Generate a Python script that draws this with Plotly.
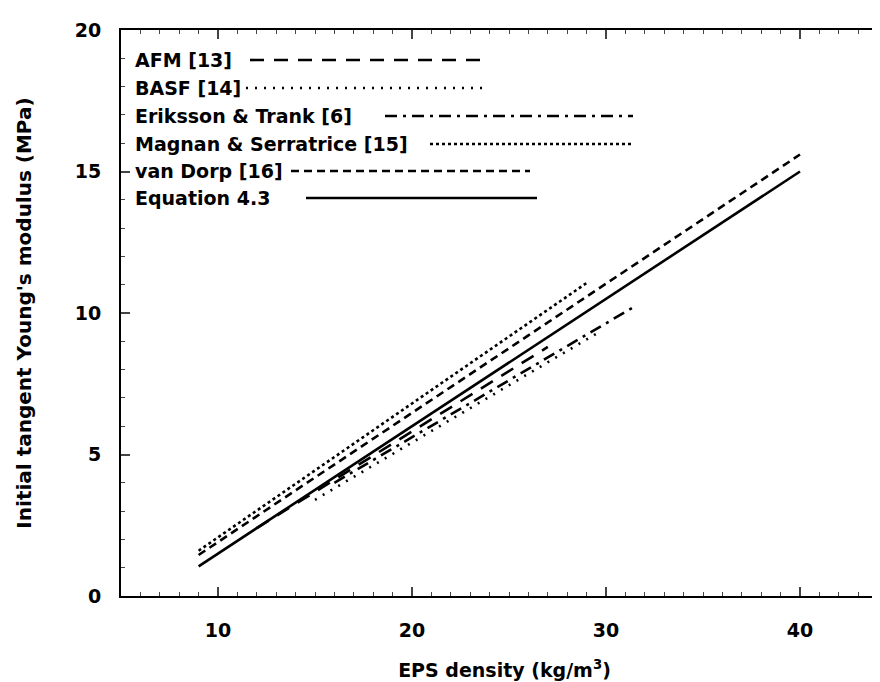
import plotly.graph_objects as go

# ---- data ----
series_names = ["AFM [13]", "BASF [14]", "Eriksson & Trank [6]",
                "Magnan & Serratrice [15]", "van Dorp [16]", "Equation 4.3"]
afm_density = [12.0, 27.0]
afm_modulus = [2.4, 8.8]
basf_density = [15.0, 29.7]
basf_modulus = [3.4, 9.35]
eriksson_density = [16.0, 31.4]
eriksson_modulus = [4.0, 10.2]
magnan_density = [9.0, 29.0]
magnan_modulus = [1.6, 11.06]
vandorp_density = [9.0, 40.0]
vandorp_modulus = [1.45, 15.6]
equation_density = [9.0, 40.0]
equation_modulus = [1.05, 15.0]
x_ticks = [10, 20, 30, 40]
y_ticks = [0, 5, 10, 15, 20]

# ---- styles ----
W, H = 880, 682
ML, MR, MT, MB = 113, 0, 22, 94
FONT = dict(family="DejaVu Sans", size=19, color="black", weight="bold")
YT_FONT = dict(family="DejaVu Sans", size=20, color="black", weight="bold")
dashes = ["14px,10px", "2px,7px", "12px,6px,3px,6px", "3px,3px", "8px,5px", "solid"]
LW = 2.6

xs = [afm_density, basf_density, eriksson_density, magnan_density, vandorp_density, equation_density]
ys = [afm_modulus, basf_modulus, eriksson_modulus, magnan_modulus, vandorp_modulus, equation_modulus]

fig = go.Figure()
for name, x, y, d in zip(series_names, xs, ys, dashes):
    fig.add_trace(go.Scatter(x=x, y=y, mode="lines", name=name, showlegend=False,
                             line=dict(color="black", width=LW, dash=d)))

pw, ph = W - ML - MR, H - MT - MB
def px(xp):
    return (xp - ML) / pw
def py(yp):
    return 1 - (yp - MT) / ph

# custom legend: text then line sample
rows_y = [52, 80, 108, 136, 163, 190]
line_spans = [(242, 472), (238, 480), (377, 625), (422, 625), (283, 522), (298, 529)]
shapes, annotations = [], []
for name, yr, (x0, x1), d in zip(series_names, rows_y, line_spans, dashes):
    annotations.append(dict(x=px(125), y=py(yr), xref="paper", yref="paper", text=name,
                            showarrow=False, xanchor="left", yanchor="middle", font=FONT))
    shapes.append(dict(type="line", xref="paper", yref="paper", x0=px(x0), x1=px(x1),
                       y0=py(yr), y1=py(yr), line=dict(color="black", width=LW, dash=d)))

x_max = 5 + pw / 19.4
fig.update_layout(
    width=W, height=H, margin=dict(l=ML, r=MR, t=MT, b=MB),
    paper_bgcolor="white", plot_bgcolor="white", font=FONT,
    shapes=shapes, annotations=annotations,
    xaxis=dict(range=[5, x_max], tickvals=x_ticks, ticks="inside", ticklen=9, tickwidth=1.6,
               showline=True, linecolor="black", linewidth=2, mirror="ticks", showgrid=False,
               zeroline=False, tickfont=FONT, ticklabelstandoff=16,
               minor=dict(dtick=1, ticks="inside", ticklen=4, tickwidth=1.3, showgrid=False),
               title=dict(text="EPS density (kg/m<sup>3</sup>)", font=FONT, standoff=24)),
    yaxis=dict(range=[0, 20], tickvals=y_ticks, ticks="inside", ticklen=9, tickwidth=1.6,
               showline=True, linecolor="black", linewidth=2, mirror=False, showgrid=False,
               zeroline=False, tickfont=FONT, ticklabelstandoff=14,
               minor=dict(dtick=1, ticks="inside", ticklen=4, tickwidth=1.3, showgrid=False),
               title=dict(text="Initial tangent Young's modulus (MPa)", font=YT_FONT, standoff=38)),
)
fig.write_html("out.html")
